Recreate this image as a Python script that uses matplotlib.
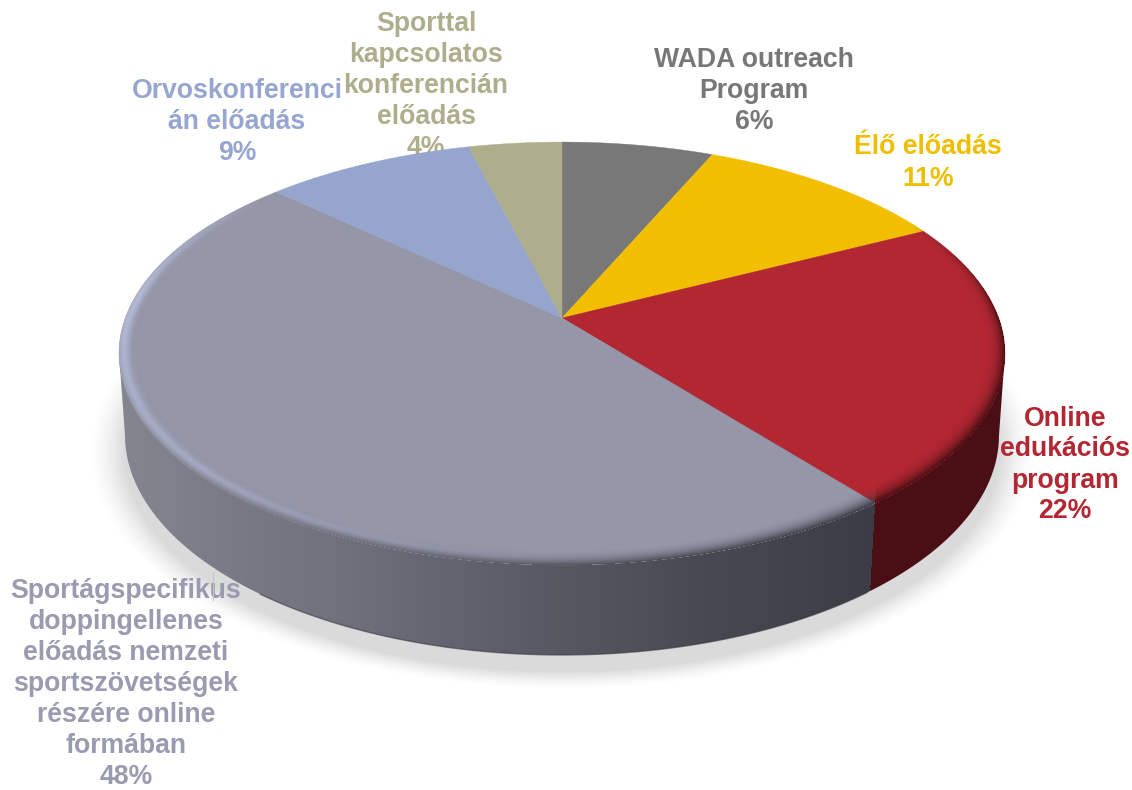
import numpy as np
import matplotlib
matplotlib.use('Agg')
import matplotlib.pyplot as plt
from matplotlib.colors import to_rgb
from matplotlib.patches import Polygon

plt.rcParams['font.family'] = ['Liberation Sans', 'DejaVu Sans']

# adatok, 12 órától az óramutató járása szerint
labels = ['WADA outreach\nProgram', 'Élő előadás', 'Online\nedukációs\nprogram',
          'Sportágspecifikus\ndoppingellenes\nelőadás nemzeti\nsportszövetségek\nrészére online\nformában',
          'Orvoskonferenci\nán előadás', 'Sporttal\nkapcsolatos\nkonferencián\nelőadás']
percents = [6, 11, 22, 48, 9, 4]
# a szeletek mérete
shares = [6.5, 11.0, 21.8, 47.7, 9.0, 4.0]
colors = ['#787878', '#f2bf00', '#b22732', '#9696a9', '#95a5cd', '#aeae8c']
text_colors = ['#777777', '#f0be00', '#b22732', '#9a9ab0', '#96a6d0', '#aeae8c']
# felirat közepe pixelben
label_x = [754, 928, 1065, 126, 237, 426]
label_y = [91, 163, 465, 684, 122, 86]

# a perspektíva paraméterei
cx, cy = 562.0, 318.0
rx, ry, p = 436.7, 205.5, 0.168
W, H = 1132, 790

fig = plt.figure(figsize=(W / 100, H / 100), dpi=100)
ax = fig.add_axes([0, 0, 1, 1])
ax.set_xlim(0, W)
ax.set_ylim(H, 0)
ax.axis('off')


def project(theta, r=1.0):
    u, v = r * np.sin(theta), r * np.cos(theta)
    w = 1 + p * v
    return cx + rx * u / w, cy - ry * v / w


xx, yy = np.meshgrid(np.arange(W) + 0.5, np.arange(H) + 0.5)
edges = np.cumsum([0] + shares) / np.sum(shares) * 2 * np.pi

# árnyék
d = np.sqrt(((xx - 562) / 446) ** 2 + ((yy - 452) / 224) ** 2)
shadow = np.zeros((H, W, 4))
shadow[..., :3] = 0.55
shadow[..., 3] = np.clip((1.06 - d) / 0.08, 0, 1) ** 1.5 * 0.32
ax.imshow(shadow, extent=(0, W, H, 0), zorder=0, aspect='auto')

# feliratok
for i in range(len(percents)):
    ax.text(label_x[i], label_y[i], labels[i] + '\n%d%%' % percents[i], color=text_colors[i],
            fontsize=19.2, fontweight='bold', ha='center', va='center',
            linespacing=1.25, zorder=1)
ax.plot([213, 213], [572, 600], color='#c4c4c4', lw=0.8, zorder=1.5)

# oldalfal
sx, sy = project(edges[3])
grad_x = [118, 220, 330, 500, 700, 875]
grad_c = np.array([to_rgb(c) for c in ['#85868f', '#7b7b88', '#72727f', '#5e5e6a', '#484951', '#3b3c44']])
wall = np.zeros((H, W, 4))
for k in range(3):
    wall[..., k] = np.interp(xx, grad_x, grad_c[:, k])
bx = sx - 5 * (yy - sy) / 88
wall[xx > bx, :3] = to_rgb('#4a0f14')
wall[..., 3] = 1
t = np.linspace(0, np.pi, 300)
bot = np.c_[562 + 437 * np.cos(t), 435 + 220 * np.sin(t)]
clip = Polygon(np.r_[[[119, 353], [1005, 353]], bot], closed=True, transform=ax.transData)
im = ax.imshow(wall, extent=(0, W, H, 0), zorder=2, aspect='auto')
im.set_clip_path(clip)
keep = (bot[:, 0] > 260) & (bot[:, 0] < 870)
ax.plot(bot[keep, 0], bot[keep, 1], color='#3a3a45', lw=1, alpha=0.6, zorder=2.5)

# felső lap
for i in range(len(shares)):
    t = np.linspace(edges[i], edges[i + 1], 200)
    px, py = project(t)
    ax.fill(np.r_[cx, px], np.r_[cy, py], color=colors[i], lw=0.3, zorder=3)

# perem: sötétedés és csillanás
a = (xx - cx) / rx
b = (cy - yy) / ry
v = b / (1 - p * b)
w = 1 + p * v
u = a * w
r = np.sqrt(u ** 2 + v ** 2)
th = np.degrees(np.arctan2(u, v)) % 360
s = np.clip((r - 0.945) / 0.055, 0, 1)
inside = r <= 1.0
fade = np.clip((th - 60) / 30, 0, 1) * np.clip((275 - th) / 70, 0, 1)
power = np.interp(th, [60, 140], [5, 2.2])

dark = np.zeros((H, W, 4))
dark[..., :3] = wall[..., :3]
dark[..., 3] = s ** power * fade * inside
hl = np.zeros((H, W, 4))
hl[..., :3] = to_rgb('#b4bbd8')
sh = np.interp(th, [200, 270], [0.62, 0.85])
hl[..., 3] = (np.exp(-((s - sh) / 0.24) ** 2) * np.clip((th - 175) / 55, 0, 1)
              * np.clip((310 - th) / 35, 0, 1) * inside)
ax.imshow(hl, extent=(0, W, H, 0), zorder=4, aspect='auto')
ax.imshow(dark, extent=(0, W, H, 0), zorder=4.5, aspect='auto')
ax.set_xlim(0, W)
ax.set_ylim(H, 0)

fig.savefig('out.png', dpi=100)
